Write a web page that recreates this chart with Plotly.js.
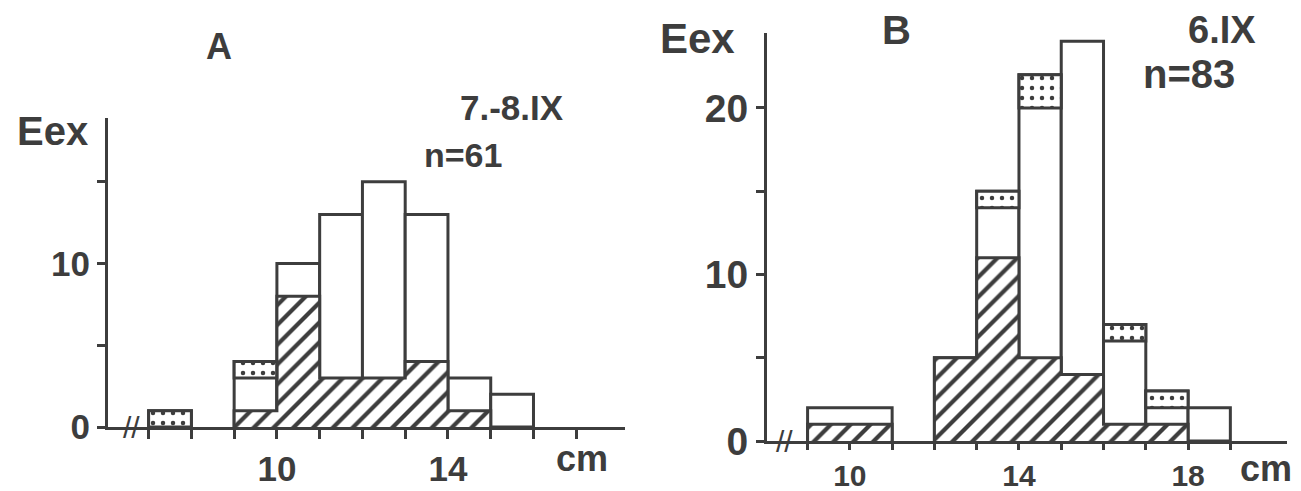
<!DOCTYPE html>
<html><head><meta charset="utf-8">
<script src="https://cdn.plot.ly/plotly-3.0.1.min.js"></script>
<style>html,body{margin:0;padding:0;background:#fff;} #chart{width:1301px;height:491px;}</style>
</head><body><div id="chart"></div>
<script>
// ---- Panel A : 7.-8.IX, n=61 (length classes, cm) ----
const binStartA = [7, 9, 10, 11, 12, 13, 14, 15];
const binWidthA = [1, 1, 1, 1, 1, 1, 1, 1];
const hatchedA  = [0, 1, 8, 3, 3, 4, 1, 0];
const openA     = [0, 2, 2, 10, 12, 9, 2, 2];
const stippledA = [1, 1, 0, 0, 0, 0, 0, 0];

// ---- Panel B : 6.IX, n=83 ----
const binStartB = [9, 12, 13, 14, 15, 16, 17, 18];
const binWidthB = [2, 1, 1, 1, 1, 1, 1, 1];
const hatchedB  = [1, 5, 11, 5, 4, 1, 1, 0];
const openB     = [1, 0, 3, 15, 20, 5, 1, 2];
const stippledB = [0, 0, 1, 2, 0, 1, 1, 0];

// ---- tick labels ----
const xTickValsA = [7, 8, 9, 10, 11, 12, 13, 14, 15, 16, 17];
const xTickTextA = ['', '', '', '10', '', '', '', '14', '', '', ''];
const yTickValsA = [0, 5, 10, 15];
const yTickTextA = ['0', '', '10', ''];
const xTickValsB = [9, 10, 11, 12, 13, 14, 15, 16, 17, 18, 19];
const xTickTextB = ['', '10', '', '', '', '14', '', '', '', '18', ''];
const yTickValsB = [0, 5, 10, 15, 20];
const yTickTextB = ['0', '', '10', '', '20'];

const INK = '#3d3d3d';
const FONT = 'Liberation Sans, Arial, Helvetica, sans-serif';

function panelTraces(start, width, hatched, open, stippled, xa, ya) {
  const centers = start.map((s, i) => s + width[i] / 2);
  const totals = start.map((_, i) => hatched[i] + open[i] + stippled[i]);
  const common = {xaxis: xa, yaxis: ya, hoverinfo: 'skip', showlegend: false};
  const traces = [];
  // whole bins (outline)
  traces.push(Object.assign({type: 'bar', x: centers, y: totals, width: width, base: 0,
    marker: {color: 'white', line: {color: INK, width: 3}}}, common));
  // hatched part
  traces.push(Object.assign({type: 'bar', x: centers, y: hatched, width: width, base: 0,
    marker: {color: 'white', line: {width: 0},
      pattern: {shape: '/', fgcolor: INK, bgcolor: 'white', size: 14, solidity: 0.3}}}, common));
  // stippled part (top)
  const si = start.map((_, i) => i).filter(i => stippled[i] > 0);
  traces.push(Object.assign({type: 'bar', x: si.map(i => centers[i]), y: si.map(i => stippled[i]),
    width: si.map(i => width[i]), base: si.map(i => hatched[i] + open[i]),
    marker: {color: 'white', line: {color: INK, width: 3},
      pattern: {shape: '.', fgcolor: INK, bgcolor: 'white', size: 10, solidity: 0.16}}}, common));
  // hatched step outline
  const ox = [], oy = [];
  let prevEnd = null;
  for (let i = 0; i < start.length; i++) {
    if (hatched[i] <= 0) { if (prevEnd !== null) { ox.push(prevEnd); oy.push(0); ox.push(null); oy.push(null); prevEnd = null; } continue; }
    const l = start[i], r = start[i] + width[i];
    if (prevEnd === null || prevEnd !== l) {
      if (prevEnd !== null) { ox.push(prevEnd); oy.push(0); ox.push(null); oy.push(null); }
      ox.push(l); oy.push(0);
    }
    ox.push(l); oy.push(hatched[i]);
    ox.push(r); oy.push(hatched[i]);
    prevEnd = r;
  }
  if (prevEnd !== null) { ox.push(prevEnd); oy.push(0); }
  traces.push(Object.assign({type: 'scatter', mode: 'lines', x: ox, y: oy,
    line: {color: INK, width: 3}, connectgaps: false}, common));
  return traces;
}

const data = [].concat(
  panelTraces(binStartA, binWidthA, hatchedA, openA, stippledA, 'x', 'y'),
  panelTraces(binStartB, binWidthB, hatchedB, openB, stippledB, 'x2', 'y2')
);

function xAxis(domain, range, vals, text, anchor, size) {
  return {domain: domain, range: range, anchor: anchor, showline: true, linecolor: INK, linewidth: 3,
    ticks: 'outside', ticklen: 9, tickwidth: 3, tickcolor: INK, tickvals: vals, ticktext: text,
    tickfont: {family: FONT, size: size, color: INK, weight: 700},
    showgrid: false, zeroline: false, fixedrange: true};
}
function yAxis(domain, range, vals, text, anchor, size) {
  return {domain: domain, range: range, anchor: anchor, showline: true, linecolor: INK, linewidth: 3,
    ticks: 'outside', ticklen: 8, tickwidth: 3, tickcolor: INK, tickvals: vals, ticktext: text,
    tickfont: {family: FONT, size: size, color: INK, weight: 700},
    showgrid: false, zeroline: false, fixedrange: true};
}

const W = 1301, H = 491;
function ann(text, px, py, size) {
  return {text: text, xref: 'paper', yref: 'paper', x: px / W, y: 1 - py / H,
    xanchor: 'center', yanchor: 'middle', showarrow: false,
    font: {family: FONT, size: size, color: INK, weight: 700}};
}

const xA = xAxis([108 / W, 625 / W], [6.05, 18.14], xTickValsA, xTickTextA, 'y', 35);
const xB = xAxis([767 / W, 1287 / W], [8.04, 20.34], xTickValsB, xTickTextB, 'y2', 30);
xB.ticklen = 6;

const layout = {
  width: W, height: H, margin: {l: 0, r: 0, t: 0, b: 0},
  paper_bgcolor: 'white', plot_bgcolor: 'rgba(0,0,0,0)',
  barmode: 'overlay', bargap: 0, showlegend: false,
  xaxis: xA,
  yaxis: yAxis([1 - 427 / H, 1 - 118 / H], [0, 18.9], yTickValsA, yTickTextA, 'x', 35),
  xaxis2: xB,
  yaxis2: yAxis([1 - 441 / H, 1 - 33 / H], [0, 24.5], yTickValsB, yTickTextB, 'x2', 39),
  annotations: [
    ann('A', 219, 46, 36),
    ann('Eex', 52, 131, 40),
    ann('7.-8.IX', 512, 108, 35),
    ann('n=61', 463, 155, 34),
    ann('cm', 582, 458, 36),
    ann('B', 896, 30, 40),
    ann('Eex', 697, 38, 42),
    ann('6.IX', 1222, 30, 38),
    ann('n=83', 1189, 74, 40),
    ann('cm', 1266, 468, 36),
    {text: '//', xref: 'x', yref: 'y', x: 6.59, y: 0, xanchor: 'center', yanchor: 'middle',
      showarrow: false, font: {family: FONT, size: 30, color: INK, weight: 400}},
    {text: '//', xref: 'x2', yref: 'y2', x: 8.46, y: 0, xanchor: 'center', yanchor: 'middle',
      showarrow: false, font: {family: FONT, size: 30, color: INK, weight: 400}}
  ]
};

Plotly.newPlot('chart', data, layout, {displayModeBar: false, staticPlot: true});
</script>
</body></html>
